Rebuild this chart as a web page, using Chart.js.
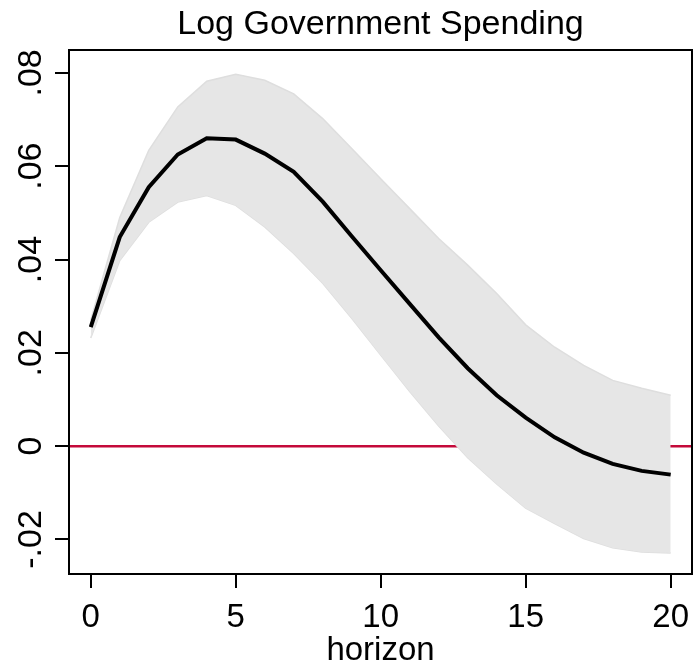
<!DOCTYPE html>
<html lang="en">
<head>
    <meta charset="UTF-8">
    <title>Log Government Spending</title>
    <script src="https://cdn.jsdelivr.net/npm/chart.js"></script>
    <style>
        * {
            margin: 0;
            padding: 0;
            box-sizing: border-box;
        }

        body {
            background-color: #fff;
        }

        #irfChart {
            display: block;
        }
    </style>
</head>
<body>
    <canvas id="irfChart" width="693" height="669"></canvas>

    <script>
        // horizons and estimated response with its band
        const horizon = [0, 1, 2, 3, 4, 5, 6, 7, 8, 9, 10, 11, 12, 13, 14, 15, 16, 17, 18, 19, 20];
        const irf = [0.0255, 0.0448, 0.0555, 0.0625, 0.0660, 0.0657, 0.0627, 0.0588, 0.0524, 0.0450, 0.0377,
                     0.0305, 0.0233, 0.0167, 0.0109, 0.0061, 0.0019, -0.0014, -0.0038, -0.0053, -0.0061];
        const upper = [0.0270, 0.0490, 0.0634, 0.0727, 0.0782, 0.0797, 0.0784, 0.0755, 0.0702, 0.0638, 0.0573,
                       0.0509, 0.0445, 0.0388, 0.0327, 0.0260, 0.0212, 0.0173, 0.0141, 0.0124, 0.0109];
        const lower = [0.0232, 0.0398, 0.0480, 0.0523, 0.0537, 0.0516, 0.0470, 0.0413, 0.0349, 0.0274, 0.0195,
                       0.0117, 0.0043, -0.0025, -0.0081, -0.0133, -0.0166, -0.0198, -0.0218, -0.0227, -0.0229];

        // axes
        const xMin = -0.75, xMax = 20.735;
        const yMin = -0.0274, yMax = 0.0849;
        const xTicks = [0, 5, 10, 15, 20];
        const yTicks = [-0.02, 0, 0.02, 0.04, 0.06, 0.08];
        const yTickLabels = ['-.02', '0', '.02', '.04', '.06', '.08'];
        const zeroLine = [0, 0];

        const pts = (ys) => horizon.map((h, i) => ({ x: h, y: ys[i] }));

        Chart.defaults.font.family = "'Liberation Sans', Arial, sans-serif";
        Chart.defaults.color = '#000';

        // Stata draws a full box round the plot region
        const frame = {
            id: 'frame',
            afterDraw(chart) {
                const { ctx, chartArea: a } = chart;
                ctx.save();
                ctx.strokeStyle = '#000';
                ctx.lineWidth = 2;
                ctx.strokeRect(a.left, a.top, a.right - a.left, a.bottom - a.top);
                ctx.restore();
            }
        };

        new Chart(document.getElementById('irfChart'), {
            type: 'line',
            data: {
                datasets: [
                    {
                        data: pts(irf),
                        borderColor: '#000',
                        borderWidth: 4,
                        pointRadius: 0,
                        order: 0
                    },
                    {
                        data: pts(upper),
                        borderColor: '#dedede',
                        borderWidth: 1.5,
                        backgroundColor: '#e6e6e6',
                        pointRadius: 0,
                        fill: '+1',
                        order: 1
                    },
                    {
                        data: pts(lower),
                        borderColor: '#dedede',
                        borderWidth: 1.5,
                        pointRadius: 0,
                        order: 1
                    },
                    {
                        data: [{ x: xMin, y: zeroLine[0] }, { x: xMax, y: zeroLine[1] }],
                        borderColor: '#c40a3a',
                        borderWidth: 2.5,
                        pointRadius: 0,
                        order: 2
                    }
                ]
            },
            options: {
                responsive: false,
                animation: false,
                layout: { padding: { left: 0, right: 1, top: 0, bottom: 0 } },
                plugins: {
                    legend: { display: false },
                    tooltip: { enabled: false },
                    title: {
                        display: true,
                        fullSize: false,
                        text: 'Log Government Spending',
                        font: { size: 34, weight: 'normal', lineHeight: 1.2 },
                        padding: { top: 4.6, bottom: 4.6 }
                    }
                },
                scales: {
                    x: {
                        type: 'linear',
                        min: xMin,
                        max: xMax,
                        afterBuildTicks: (s) => { s.ticks = xTicks.map(v => ({ value: v })); },
                        afterFit: (s) => { s.height = 95; s.paddingLeft = 0; s.paddingRight = 0; },
                        grid: { drawOnChartArea: false, tickLength: 14, color: '#000', lineWidth: 2 },
                        border: { color: '#000', width: 2 },
                        ticks: { font: { size: 33 }, padding: 10, maxRotation: 0 },
                        title: {
                            display: true,
                            text: 'horizon',
                            font: { size: 33, lineHeight: 1.1 },
                            padding: { top: 0, bottom: 0 }
                        }
                    },
                    y: {
                        min: yMin,
                        max: yMax,
                        afterBuildTicks: (s) => { s.ticks = yTicks.map(v => ({ value: v })); },
                        afterFit: (s) => { s.width = 69; s.paddingTop = 0; s.paddingBottom = 0; },
                        grid: { drawOnChartArea: false, tickLength: 14, color: '#000', lineWidth: 2 },
                        border: { color: '#000', width: 2 },
                        ticks: {
                            font: { size: 34 },
                            padding: -6,
                            minRotation: 90,
                            crossAlign: 'center',
                            callback: (v, i) => yTickLabels[i]
                        }
                    }
                }
            },
            plugins: [frame]
        });
    </script>
</body>
</html>
